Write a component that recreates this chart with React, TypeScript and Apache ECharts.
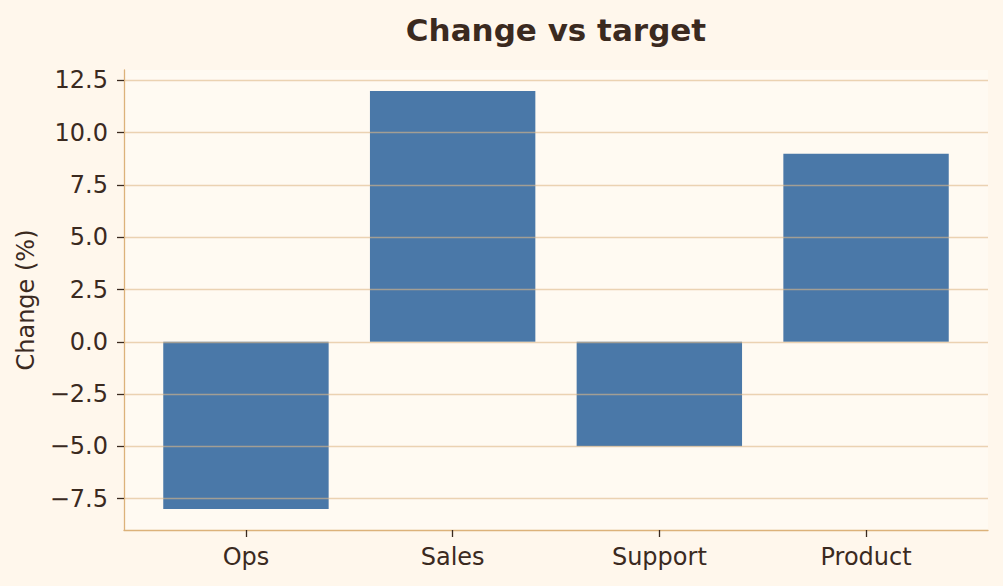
import React, { useEffect, useRef } from "react";
import * as echarts from "echarts";

const categories = ["Ops", "Sales", "Support", "Product"];
const changeValues = [-8, 12, -5, 9];
const yTicks = [-7.5, -5, -2.5, 0, 2.5, 5, 7.5, 10, 12.5];
const xPositions = [0, 1, 2, 3];

const FONT = "DejaVu Sans";
const INK = "#3b2a1f";

const fmtTick = (v: number) => v.toFixed(1).replace("-", "\u2212");

export default function App() {
  const ref = useRef<HTMLDivElement>(null);

  useEffect(() => {
    document.body.style.margin = "0";
    if (!ref.current) return;
    const chart = echarts.init(ref.current, null, { renderer: "svg" });
    chart.setOption({
      animation: false,
      backgroundColor: "#fff7ec",
      title: {
        text: "Change vs target",
        left: 551,
        top: 9,
        textAlign: "center",
        textStyle: { fontFamily: FONT, fontSize: 31, fontWeight: "bold", color: INK },
      },
      grid: {
        left: 124,
        right: 15,
        top: 70,
        bottom: 56,
        show: true,
        backgroundColor: "#fffaf2",
        borderWidth: 0,
      },
      xAxis: {
        type: "value",
        min: -0.59,
        max: 3.59,
        axisLine: { show: true, onZero: false, lineStyle: { color: "#dcb27a", width: 1.3 } },
        axisTick: {
          show: true,
          length: 7,
          customValues: xPositions,
          lineStyle: { color: INK, width: 1.3 },
        },
        axisLabel: {
          customValues: xPositions,
          formatter: (v: number) => categories[Math.round(v)] ?? "",
          fontFamily: FONT,
          fontSize: 24,
          color: INK,
          margin: 15,
        },
        splitLine: { show: false },
      },
      yAxis: {
        type: "value",
        min: -9,
        max: 13,
        z: 5,
        name: "Change (%)",
        nameLocation: "middle",
        nameGap: 86,
        nameTextStyle: { fontFamily: FONT, fontSize: 24, color: INK },
        axisLine: { show: true, onZero: false, lineStyle: { color: "#dcb27a", width: 1.3 } },
        axisTick: {
          show: true,
          length: 7,
          customValues: yTicks,
          lineStyle: { color: INK, width: 1.3 },
        },
        axisLabel: {
          customValues: yTicks,
          formatter: fmtTick,
          fontFamily: FONT,
          fontSize: 24,
          color: INK,
          margin: 16,
        },
        splitLine: {
          show: true,
          customValues: yTicks,
          lineStyle: { color: "rgba(222,184,135,0.6)", width: 1.3 },
        },
      },
      series: [
        {
          type: "bar",
          data: xPositions.map((x, i) => [x, changeValues[i]]),
          barWidth: 165.4,
          itemStyle: { color: "#4a78a8" },
        },
      ],
    });
    return () => chart.dispose();
  }, []);

  return <div ref={ref} style={{ width: 1003, height: 586 }} />;
}
